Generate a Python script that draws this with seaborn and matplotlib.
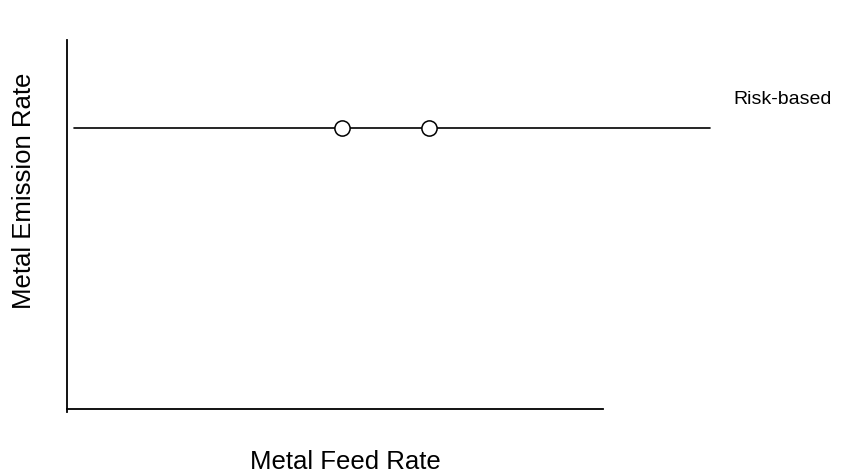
import pandas as pd
import seaborn as sns
import matplotlib.pyplot as plt

# limit line and the two measured points
line_x = [1.3, 120.0]
line_y = [76.2, 76.2]
point_x = [51.3, 67.5]
point_y = [76.2, 76.2]
limit_label = "Risk-based"
x_title = "Metal Feed Rate"
y_title = "Metal Emission Rate"

sns.set_style("white")
plt.rcParams['font.family'] = ['Liberation Sans', 'DejaVu Sans']
plt.rcParams['text.color'] = 'black'
plt.rcParams['axes.labelcolor'] = 'black'

fig = plt.figure(figsize=(8.5, 4.76), dpi=100)
ax = fig.add_axes([67 / 850, 1 - 412 / 476, 536 / 850, 372 / 476])

line_df = pd.DataFrame({'x': line_x, 'y': line_y})
pts_df = pd.DataFrame({'x': point_x, 'y': point_y})

sns.lineplot(data=line_df, x='x', y='y', color='black', linewidth=1.2, ax=ax)
for ln in ax.lines:
    ln.set_clip_on(False)
sns.scatterplot(data=pts_df, x='x', y='y', s=120, facecolor='white',
                edgecolor='black', linewidth=1.1, zorder=3, ax=ax)

ax.text(124.4, 84.0, limit_label, fontsize=14, color='black',
        ha='left', va='center', clip_on=False)

ax.set_xlim(0, 100)
ax.set_ylim(-0.813, 100)
ax.set_xticks([])
ax.set_yticks([])
ax.spines['top'].set_visible(False)
ax.spines['right'].set_visible(False)
ax.spines['bottom'].set_position(('data', 0))
for s in ['left', 'bottom']:
    ax.spines[s].set_color('black')
    ax.spines[s].set_linewidth(1.3)

ax.set_xlabel(x_title, fontsize=18.5)
ax.xaxis.label.set_va('center')
ax.xaxis.set_label_coords(0.519, -0.135)
ax.set_ylabel(y_title, fontsize=18.5)
ax.yaxis.label.set_va('center')
ax.yaxis.set_label_coords(-0.080, 0.595)

fig.savefig('out.png', dpi=100)
